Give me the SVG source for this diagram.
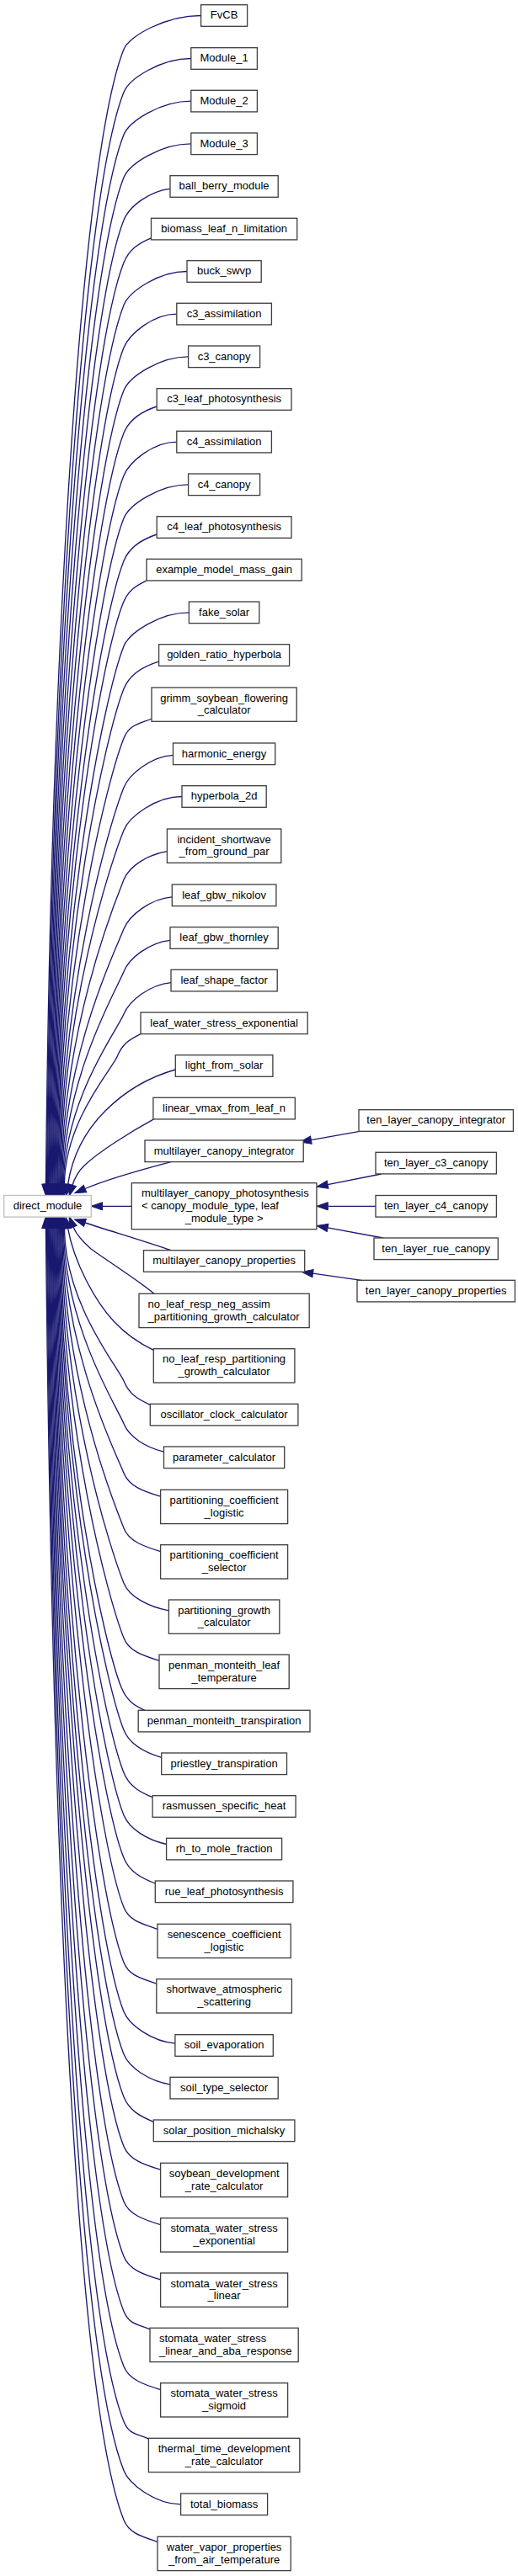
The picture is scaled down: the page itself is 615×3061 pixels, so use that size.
<svg xmlns="http://www.w3.org/2000/svg" width="615" height="3061" viewBox="0 0 615 3061">
<style>
rect{fill:#fff;stroke:#404040;stroke-width:1.33}
rect.root{stroke:#bfbfbf}
text{font-family:"Liberation Sans",Arial,Helvetica,sans-serif;font-size:13px;fill:#000;text-anchor:middle}
text.l{text-anchor:start}
#edges path{fill:none;stroke:#191970;stroke-width:1.33;marker-end:url(#ah)}
</style>
<defs>
<marker id="ah" markerUnits="userSpaceOnUse" markerWidth="13.3" markerHeight="9.3" viewBox="0 0 13.3 9.3" refX="0" refY="4.65" orient="auto" style="overflow:visible">
<path d="M0,0 L13.3,4.65 L0,9.3 z" fill="#191970" stroke="#191970" stroke-width="1"/>
</marker>
</defs>
<rect x="0" y="0" width="615" height="3061" style="fill:#fff;stroke:none"/>
<g id="edges">
<path d="M238.6,18.5 C197.4,18.5 153.4,42.5 147,58.5 C98.4,179.9 61.1,732.8 54.4,1407.2"/>
<path d="M226.8,69.5 C190.9,69.5 153.4,93.5 147,109.5 C100.3,226.3 61.9,758.3 55.4,1407.2"/>
<path d="M226.8,120.1 C190.9,120.1 153.4,144.1 147,160.1 C102.1,272.3 62.5,783.6 56.3,1407.2"/>
<path d="M226.8,170.8 C190.9,170.8 153.4,194.8 147,210.8 C103.9,318.5 63.3,809 57.3,1407.2"/>
<path d="M202,224.3 C177.2,227 153.4,245.5 147,261.5 C105.8,364.6 63.9,834.3 58.2,1407.2"/>
<path d="M179.5,282.9 C164.9,289 153.4,296.1 147,312.1 C107.6,410.7 64.7,859.6 59.2,1407.2"/>
<path d="M222,322.5 C188.2,322.5 153.4,346.5 147,362.5 C109.4,456.5 65.3,884.8 60.1,1407.2"/>
<path d="M209.8,373.1 C181.5,373.1 153.4,397.1 147,413.1 C111.2,502.6 66.1,910.2 61.1,1407.2"/>
<path d="M223.6,423.8 C189.1,423.8 153.4,447.8 147,463.8 C113,548.7 66.8,935.5 62.1,1407.2"/>
<path d="M186.2,483 C168.6,488.8 153.4,498.5 147,514.5 C114.9,594.8 67.5,960.8 63,1407.2"/>
<path d="M209.8,525.1 C181.5,525.1 153.4,549.1 147,565.1 C116.7,640.9 68.2,986.1 64,1407.2"/>
<path d="M223.6,575.8 C189.1,575.8 153.4,599.8 147,615.8 C118.5,687 68.9,1011.5 64.9,1407.2"/>
<path d="M186.2,635 C168.6,640.8 153.4,650.5 147,666.5 C120.3,733.2 69.6,1036.8 65.9,1407.2"/>
<path d="M174,689.9 C161.4,696.2 152.4,701.1 146,717.1 C121.2,779.2 70.3,1062.1 66.8,1407.2"/>
<path d="M224.4,727.8 C189.6,727.8 153.4,751.8 147,767.8 C124,825.3 71,1087.5 67.8,1407.2"/>
<path d="M188.6,786.1 C169.9,791.7 153.4,802.5 147,818.5 C125.8,871.5 71.6,1112.8 68.7,1407.2"/>
<path d="M180,854 C165.1,860.2 153.4,861.2 147,877.2 C127.9,924.9 72.4,1142.2 69.7,1407.2"/>
<path d="M205.5,897.4 C179.2,899 153.4,919.8 147,935.8 C130,978.2 73.1,1171.5 70.7,1407.2"/>
<path d="M216,946.5 C185,946.5 153.4,970.5 147,986.5 C131.8,1024.4 73.7,1196.8 71.6,1407.2"/>
<path d="M198.4,1011.7 C175.3,1015.4 153.4,1029.2 147,1045.2 C134,1077.8 74.4,1226.2 72.6,1407.2"/>
<path d="M204.3,1065.8 C178.5,1067.9 153.4,1087.8 147,1103.8 C136.1,1131.1 75,1255.5 73.5,1407.2"/>
<path d="M202,1117.3 C177.2,1120 153.4,1138.5 147,1154.5 C137.9,1177.2 75.8,1280.8 74.5,1407.2"/>
<path d="M203,1167.6 C177.8,1170.1 153.4,1189.1 147,1205.1 C139.7,1223.3 76.4,1306.2 75.4,1407.2"/>
<path d="M167,1228.6 C154.4,1234.9 145.4,1239.8 139,1255.8 C133.6,1269.4 77.2,1331.5 76.4,1407.2"/>
<path d="M208.3,1271 C180,1279 150,1295 125,1320 C103,1342 86,1372 80.5,1407.8"/>
<path d="M182.5,1329.9 C155,1345 118,1368 100,1385 C93,1392 88.5,1400 86,1408.3"/>
<path d="M203,1380.6 C175,1388 130,1400 101,1412.5"/>
<path d="M156.3,1433.3 L121.6,1433.3"/>
<path d="M203,1485.7 C175,1476 135,1464 101,1453"/>
<path d="M183,1537.3 C165,1522 130,1500 108,1484 C99,1476 91,1468 87,1458"/>
<path d="M182.3,1604.3 C165,1596 148,1584 135,1570 C112,1545 88,1500 80.6,1459.6"/>
<path d="M178.3,1669.4 C164.2,1662.9 153.4,1657.1 147,1641.1 C140.4,1624.7 77.3,1550.3 76.4,1459.4"/>
<path d="M194.5,1725.2 C173.1,1719.7 153.4,1707.8 147,1691.8 C138.6,1670.9 76.6,1575.6 75.4,1459.4"/>
<path d="M190.6,1778.2 C171,1772.2 153.4,1766.5 147,1750.5 C136.5,1724.3 76,1604.9 74.5,1459.4"/>
<path d="M190.6,1843.6 C171,1837.6 153.4,1831.9 147,1815.9 C134.2,1783.8 75.3,1637.6 73.5,1459.4"/>
<path d="M200.4,1913.8 C176.4,1909.5 153.4,1897.2 147,1881.2 C131.8,1843.2 74.7,1670.3 72.6,1459.4"/>
<path d="M189,1973.4 C170.1,1967.3 153.4,1962.5 147,1946.5 C129.5,1902.7 74,1702.9 71.6,1459.4"/>
<path d="M172,2032.3 C160,2027 150.4,2021.1 144,2005.1 C124.4,1956 73.4,1732.3 70.7,1459.4"/>
<path d="M191.7,2088.3 C171.6,2082.5 153.4,2071.8 147,2055.8 C125.5,2002.1 72.7,1757.6 69.7,1459.4"/>
<path d="M181.1,2135.7 C165.8,2129.3 153.4,2122.5 147,2106.5 C123.7,2048.3 71.9,1783 68.7,1459.4"/>
<path d="M197.6,2191.5 C174.8,2186.5 153.4,2173.1 147,2157.1 C121.9,2094.3 71.3,1808.3 67.8,1459.4"/>
<path d="M184.3,2238 C167.5,2231.6 153.4,2223.8 147,2207.8 C120,2140.4 70.5,1833.6 66.8,1459.4"/>
<path d="M187,2292.4 C169,2286.1 153.4,2282.5 147,2266.5 C118,2193.9 69.9,1862.9 65.9,1459.4"/>
<path d="M185.8,2357.2 C168.3,2350.8 153.4,2347.9 147,2331.9 C115.6,2253.4 69.3,1895.6 64.9,1459.4"/>
<path d="M207.9,2428.2 C180.5,2425.7 153.4,2406.5 147,2390.5 C113.5,2306.7 68.7,1925 64,1459.4"/>
<path d="M202,2476.9 C177.2,2472.9 153.4,2457.1 147,2441.1 C111.6,2352.7 67.9,1950.3 63,1459.4"/>
<path d="M182.3,2521.3 C166.4,2514.8 153.4,2507.8 147,2491.8 C109.8,2398.9 67.3,1975.6 62.1,1459.4"/>
<path d="M190.6,2578.2 C171,2572.2 153.4,2566.5 147,2550.5 C107.7,2452.3 66.6,2004.9 61.1,1459.4"/>
<path d="M190.6,2643.6 C171,2637.6 153.4,2631.9 147,2615.9 C105.4,2511.8 65.9,2037.6 60.1,1459.4"/>
<path d="M190.6,2708.9 C171,2702.9 153.4,2697.2 147,2681.2 C103,2571.2 65.3,2070.3 59.2,1459.4"/>
<path d="M178,2767.9 C164,2761.5 153.4,2762.5 147,2746.5 C100.7,2630.7 64.6,2102.9 58.2,1459.4"/>
<path d="M190.6,2839.6 C171,2833.6 153.4,2827.9 147,2811.9 C98.3,2690.2 64.1,2135.6 57.3,1459.4"/>
<path d="M176.4,2898.1 C163.2,2891.7 153.4,2893.5 147,2877.5 C96,2749.9 63.4,2168.4 56.3,1459.4"/>
<path d="M214.6,2975.8 C184.2,2975.8 153.4,2951.8 147,2935.8 C93.8,2802.9 62.8,2197.6 55.4,1459.4"/>
<path d="M187,3020.4 C169,3014.1 153.4,3010.5 147,2994.5 C91.7,2856.3 62.1,2226.9 54.4,1459.4"/>
<path d="M427,1344.3 L369.4,1354.7"/>
<path d="M452.8,1395 L389.1,1407.6"/>
<path d="M446,1433.3 L389.3,1433.3"/>
<path d="M454.7,1471 L389.1,1458.9"/>
<path d="M429,1521.3 L371.5,1513.2"/>
</g>
<g id="direct_module"><rect class="root" x="4.7" y="1420.5" width="103.6" height="25.6"/><text x="56.5" y="1437.1">direct_module</text></g>
<g id="FvCB"><rect x="238.6" y="5.7" width="55" height="25.6"/><text x="266.1" y="22.3">FvCB</text></g>
<g id="Module_1"><rect x="226.8" y="56.7" width="78.6" height="25.6"/><text x="266.1" y="73.3">Module_1</text></g>
<g id="Module_2"><rect x="226.8" y="107.3" width="78.6" height="25.6"/><text x="266.1" y="123.9">Module_2</text></g>
<g id="Module_3"><rect x="226.8" y="158" width="78.6" height="25.6"/><text x="266.1" y="174.6">Module_3</text></g>
<g id="ball_berry_module"><rect x="202" y="208.7" width="128.2" height="25.6"/><text x="266.1" y="225.3">ball_berry_module</text></g>
<g id="biomass_leaf_n_limitation"><rect x="179.5" y="259.3" width="173.2" height="25.6"/><text x="266.1" y="275.9">biomass_leaf_n_limitation</text></g>
<g id="buck_swvp"><rect x="222" y="309.7" width="88.2" height="25.6"/><text x="266.1" y="326.3">buck_swvp</text></g>
<g id="c3_assimilation"><rect x="209.8" y="360.3" width="112.6" height="25.6"/><text x="266.1" y="376.9">c3_assimilation</text></g>
<g id="c3_canopy"><rect x="223.6" y="411" width="85" height="25.6"/><text x="266.1" y="427.6">c3_canopy</text></g>
<g id="c3_leaf_photosynthesis"><rect x="186.2" y="461.7" width="159.8" height="25.6"/><text x="266.1" y="478.3">c3_leaf_photosynthesis</text></g>
<g id="c4_assimilation"><rect x="209.8" y="512.3" width="112.6" height="25.6"/><text x="266.1" y="528.9">c4_assimilation</text></g>
<g id="c4_canopy"><rect x="223.6" y="563" width="85" height="25.6"/><text x="266.1" y="579.6">c4_canopy</text></g>
<g id="c4_leaf_photosynthesis"><rect x="186.2" y="613.7" width="159.8" height="25.6"/><text x="266.1" y="630.3">c4_leaf_photosynthesis</text></g>
<g id="example_model_mass_gain"><rect x="174" y="664.3" width="184.2" height="25.6"/><text x="266.1" y="680.9">example_model_mass_gain</text></g>
<g id="fake_solar"><rect x="224.4" y="715" width="83.4" height="25.6"/><text x="266.1" y="731.6">fake_solar</text></g>
<g id="golden_ratio_hyperbola"><rect x="188.6" y="765.7" width="155" height="25.6"/><text x="266.1" y="782.3">golden_ratio_hyperbola</text></g>
<g id="grimm_soybean_flowering_calculator"><rect x="180" y="817" width="172.2" height="40.3"/><text x="266.1" y="833.6">grimm_soybean_flowering<tspan x="266.1" dy="14.6">_calculator</tspan></text></g>
<g id="harmonic_energy"><rect x="205.5" y="883" width="121.2" height="25.6"/><text x="266.1" y="899.6">harmonic_energy</text></g>
<g id="hyperbola_2d"><rect x="216" y="933.7" width="100.2" height="25.6"/><text x="266.1" y="950.3">hyperbola_2d</text></g>
<g id="incident_shortwave_from_ground_par"><rect x="198.4" y="985" width="135.4" height="40.3"/><text x="266.1" y="1001.6">incident_shortwave<tspan x="266.1" dy="14.6">_from_ground_par</tspan></text></g>
<g id="leaf_gbw_nikolov"><rect x="204.3" y="1051" width="123.6" height="25.6"/><text x="266.1" y="1067.6">leaf_gbw_nikolov</text></g>
<g id="leaf_gbw_thornley"><rect x="202" y="1101.7" width="128.2" height="25.6"/><text x="266.1" y="1118.3">leaf_gbw_thornley</text></g>
<g id="leaf_shape_factor"><rect x="203" y="1152.3" width="126.2" height="25.6"/><text x="266.1" y="1168.9">leaf_shape_factor</text></g>
<g id="leaf_water_stress_exponential"><rect x="167" y="1203" width="198.2" height="25.6"/><text x="266.1" y="1219.6">leaf_water_stress_exponential</text></g>
<g id="light_from_solar"><rect x="208.3" y="1253.7" width="115.6" height="25.6"/><text x="266.1" y="1270.3">light_from_solar</text></g>
<g id="linear_vmax_from_leaf_n"><rect x="181.9" y="1304.3" width="168.4" height="25.6"/><text x="266.1" y="1320.9">linear_vmax_from_leaf_n</text></g>
<g id="multilayer_canopy_integrator"><rect x="172" y="1355" width="188.2" height="25.6"/><text x="266.1" y="1371.6">multilayer_canopy_integrator</text></g>
<g id="multilayer_canopy_photosynthesis"><rect x="156.3" y="1405.7" width="219.6" height="55"/><text class="l" x="168" y="1422.3">multilayer_canopy_photosynthesis<tspan x="168" dy="14.6">&lt; canopy_module_type, leaf</tspan></text><text x="266.1" y="1451.5">_module_type &gt;</text></g>
<g id="multilayer_canopy_properties"><rect x="170.5" y="1485.7" width="191.2" height="25.6"/><text x="266.1" y="1502.3">multilayer_canopy_properties</text></g>
<g id="no_leaf_resp_neg_assim_partitioning_growth_calculator"><rect x="165" y="1537.3" width="202.2" height="40.3"/><text class="l" x="175.6" y="1553.9">no_leaf_resp_neg_assim<tspan x="175.6" dy="14.6">_partitioning_growth_calculator</tspan></text></g>
<g id="no_leaf_resp_partitioning_growth_calculator"><rect x="182.3" y="1602.7" width="167.6" height="40.3"/><text x="266.1" y="1619.3">no_leaf_resp_partitioning<tspan x="266.1" dy="14.6">_growth_calculator</tspan></text></g>
<g id="oscillator_clock_calculator"><rect x="178.3" y="1668.3" width="175.6" height="25.6"/><text x="266.1" y="1684.9">oscillator_clock_calculator</text></g>
<g id="parameter_calculator"><rect x="194.5" y="1719" width="143.2" height="25.6"/><text x="266.1" y="1735.6">parameter_calculator</text></g>
<g id="partitioning_coefficient_logistic"><rect x="190.6" y="1770.3" width="151" height="40.3"/><text x="266.1" y="1786.9">partitioning_coefficient<tspan x="266.1" dy="14.6">_logistic</tspan></text></g>
<g id="partitioning_coefficient_selector"><rect x="190.6" y="1835.7" width="151" height="40.3"/><text x="266.1" y="1852.3">partitioning_coefficient<tspan x="266.1" dy="14.6">_selector</tspan></text></g>
<g id="partitioning_growth_calculator"><rect x="200.4" y="1901" width="131.4" height="40.3"/><text x="266.1" y="1917.6">partitioning_growth<tspan x="266.1" dy="14.6">_calculator</tspan></text></g>
<g id="penman_monteith_leaf_temperature"><rect x="189" y="1966.3" width="154.2" height="40.3"/><text x="266.1" y="1982.9">penman_monteith_leaf<tspan x="266.1" dy="14.6">_temperature</tspan></text></g>
<g id="penman_monteith_transpiration"><rect x="164.2" y="2032.3" width="203.8" height="25.6"/><text x="266.1" y="2048.9">penman_monteith_transpiration</text></g>
<g id="priestley_transpiration"><rect x="191.7" y="2083" width="148.8" height="25.6"/><text x="266.1" y="2099.6">priestley_transpiration</text></g>
<g id="rasmussen_specific_heat"><rect x="181.1" y="2133.7" width="170" height="25.6"/><text x="266.1" y="2150.3">rasmussen_specific_heat</text></g>
<g id="rh_to_mole_fraction"><rect x="197.6" y="2184.3" width="137" height="25.6"/><text x="266.1" y="2200.9">rh_to_mole_fraction</text></g>
<g id="rue_leaf_photosynthesis"><rect x="184.3" y="2235" width="163.6" height="25.6"/><text x="266.1" y="2251.6">rue_leaf_photosynthesis</text></g>
<g id="senescence_coefficient_logistic"><rect x="187" y="2286.3" width="158.2" height="40.3"/><text x="266.1" y="2302.9">senescence_coefficient<tspan x="266.1" dy="14.6">_logistic</tspan></text></g>
<g id="shortwave_atmospheric_scattering"><rect x="185.8" y="2351.7" width="160.6" height="40.3"/><text x="266.1" y="2368.3">shortwave_atmospheric<tspan x="266.1" dy="14.6">_scattering</tspan></text></g>
<g id="soil_evaporation"><rect x="207.9" y="2417.7" width="116.4" height="25.6"/><text x="266.1" y="2434.3">soil_evaporation</text></g>
<g id="soil_type_selector"><rect x="202" y="2468.3" width="128.2" height="25.6"/><text x="266.1" y="2484.9">soil_type_selector</text></g>
<g id="solar_position_michalsky"><rect x="182.3" y="2519" width="167.6" height="25.6"/><text x="266.1" y="2535.6">solar_position_michalsky</text></g>
<g id="soybean_development_rate_calculator"><rect x="190.6" y="2570.3" width="151" height="40.3"/><text x="266.1" y="2586.9">soybean_development<tspan x="266.1" dy="14.6">_rate_calculator</tspan></text></g>
<g id="stomata_water_stress_exponential"><rect x="190.6" y="2635.7" width="151" height="40.3"/><text x="266.1" y="2652.3">stomata_water_stress<tspan x="266.1" dy="14.6">_exponential</tspan></text></g>
<g id="stomata_water_stress_linear"><rect x="190.6" y="2701" width="151" height="40.3"/><text x="266.1" y="2717.6">stomata_water_stress<tspan x="266.1" dy="14.6">_linear</tspan></text></g>
<g id="stomata_water_stress_linear_and_aba_response"><rect x="178" y="2766.3" width="176.2" height="40.3"/><text class="l" x="189" y="2782.9">stomata_water_stress<tspan x="189" dy="14.6">_linear_and_aba_response</tspan></text></g>
<g id="stomata_water_stress_sigmoid"><rect x="190.6" y="2831.7" width="151" height="40.3"/><text x="266.1" y="2848.3">stomata_water_stress<tspan x="266.1" dy="14.6">_sigmoid</tspan></text></g>
<g id="thermal_time_development_rate_calculator"><rect x="176.4" y="2897.3" width="179.4" height="40.3"/><text x="266.1" y="2913.9">thermal_time_development<tspan x="266.1" dy="14.6">_rate_calculator</tspan></text></g>
<g id="total_biomass"><rect x="214.6" y="2963" width="103" height="25.6"/><text x="266.1" y="2979.6">total_biomass</text></g>
<g id="water_vapor_properties_from_air_temperature"><rect x="187" y="3014.3" width="158.2" height="40.3"/><text x="266.1" y="3030.9">water_vapor_properties<tspan x="266.1" dy="14.6">_from_air_temperature</tspan></text></g>
<g id="ten_layer_canopy_integrator"><rect x="426" y="1318.7" width="183.4" height="25.6"/><text x="517.7" y="1335.3">ten_layer_canopy_integrator</text></g>
<g id="ten_layer_c3_canopy"><rect x="446" y="1369.3" width="143.4" height="25.6"/><text x="517.7" y="1385.9">ten_layer_c3_canopy</text></g>
<g id="ten_layer_c4_canopy"><rect x="446" y="1420.5" width="143.4" height="25.6"/><text x="517.7" y="1437.1">ten_layer_c4_canopy</text></g>
<g id="ten_layer_rue_canopy"><rect x="444" y="1471" width="147.3" height="25.6"/><text x="517.7" y="1487.6">ten_layer_rue_canopy</text></g>
<g id="ten_layer_canopy_properties"><rect x="424" y="1521.3" width="187.4" height="25.6"/><text x="517.7" y="1537.9">ten_layer_canopy_properties</text></g>
</svg>
